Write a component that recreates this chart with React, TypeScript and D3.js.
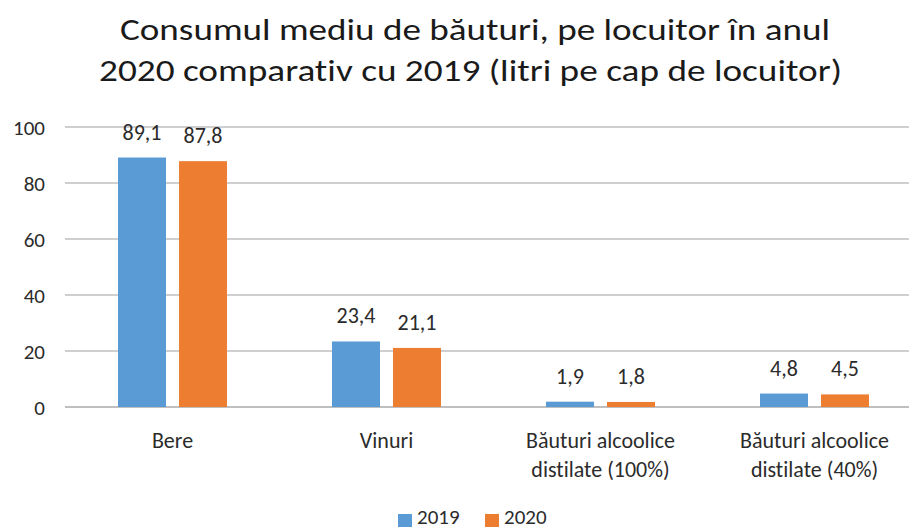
import React from "react";
import * as d3 from "d3";

const categories: string[][] = [
  ["Bere"],
  ["Vinuri"],
  ["Băuturi alcoolice", "distilate (100%)"],
  ["Băuturi alcoolice", "distilate (40%)"],
];
const seriesNames = ["2019", "2020"];
const values2019 = [89.1, 23.4, 1.9, 4.8];
const values2020 = [87.8, 21.1, 1.8, 4.5];
const yTicks = [0, 20, 40, 60, 80, 100];
const titleLines = [
  "Consumul mediu de băuturi, pe locuitor în anul",
  "2020 comparativ cu 2019 (litri pe cap de locuitor)",
];
const colors = ["#5B9BD5", "#ED7D31"];

const W = 909;
const H = 529;
const FONT = "Calibri, Carlito, Lato, sans-serif";
const TEXT = "#2b2b2b";

export default function App() {
  const series = [values2019, values2020];
  const x = d3
    .scaleBand<number>()
    .domain(categories.map((_, i) => i))
    .range([65.5, 921.5])
    .paddingInner(0)
    .paddingOuter(0);
  const xs = d3
    .scaleBand<number>()
    .domain([0, 1])
    .range([52.5, x.bandwidth() - 52.5])
    .paddingInner(0.213);
  const y = d3.scaleLinear().domain([0, 100]).range([407, 127]);

  const titleX = [120, 99];
  const titleLen = [710, 743];

  return (
    <svg
      width={W}
      height={H}
      style={{
        position: "absolute",
        left: 0,
        top: 0,
        background: "#fff",
        fontVariantLigatures: "none",
        fontFeatureSettings: '"liga" 0, "clig" 0',
      }}
      fontFamily={FONT}
    >
      <rect width={W} height={H} fill="#fff" />
      {titleLines.map((t, i) => (
        <text
          key={i}
          x={titleX[i]}
          y={39.5 + i * 41}
          textAnchor="start"
          fontSize={31}
          fontWeight={400}
          fill="#1a1a1a"
          textLength={titleLen[i]}
          lengthAdjust="spacingAndGlyphs"
        >
          {t}
        </text>
      ))}
      {yTicks.map((t) => (
        <g key={t}>
          <line
            x1={65}
            x2={W}
            y1={y(t)}
            y2={y(t)}
            stroke="#BFBFBF"
            strokeWidth={t === 0 ? 2 : 1.5}
          />
          <text
            x={45}
            y={y(t) + 7.5}
            textAnchor="end"
            fontSize={21}
            fill={TEXT}
          >
            {t}
          </text>
        </g>
      ))}
      {categories.map((c, ci) => (
        <g key={ci}>
          {series.map((s, si) => {
            const bx = (x(ci) as number) + (xs(si) as number);
            const by = y(s[ci]);
            return (
              <g key={si}>
                <rect
                  x={bx}
                  y={by}
                  width={xs.bandwidth()}
                  height={y(0) - by}
                  fill={colors[si]}
                />
                <text
                  x={bx + xs.bandwidth() / 2}
                  y={by - 18}
                  textAnchor="middle"
                  fontSize={22}
                  fill={TEXT}
                >
                  {s[ci].toFixed(1).replace(".", ",")}
                </text>
              </g>
            );
          })}
          {c.map((line, li) => (
            <text
              key={li}
              x={(x(ci) as number) + x.bandwidth() / 2}
              y={448 + li * 29}
              textAnchor="middle"
              fontSize={22}
              fill={TEXT}
            >
              {line}
            </text>
          ))}
        </g>
      ))}
      {seriesNames.map((n, i) => (
        <g key={n} transform={`translate(${398 + i * 87},0)`}>
          <rect x={0} y={514} width={14} height={13} fill={colors[i]} />
          <text x={19} y={524} fontSize={21} fill={TEXT}>
            {n}
          </text>
        </g>
      ))}
    </svg>
  );
}
